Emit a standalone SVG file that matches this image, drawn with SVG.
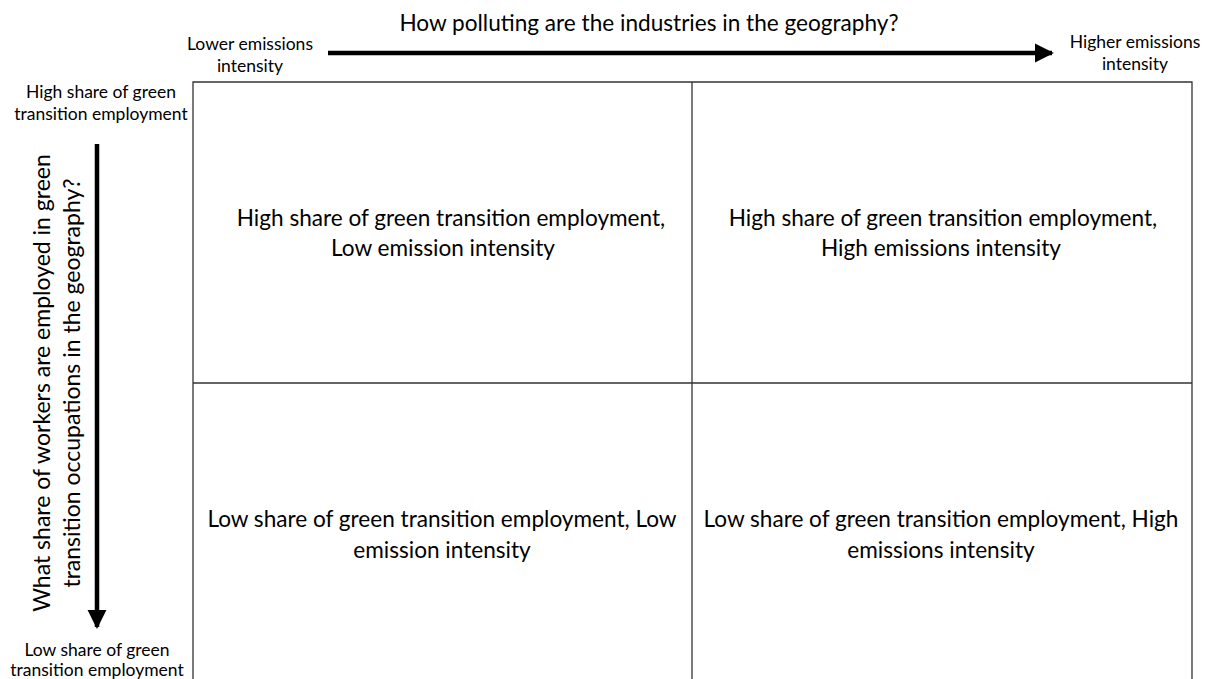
<svg xmlns="http://www.w3.org/2000/svg" width="1206" height="679" viewBox="0 0 1206 679">
<style>
text{font-family:Lato,"Open Sans","Liberation Sans",sans-serif;fill:#000;text-anchor:middle}
.s{font-size:17.5px}
.q{font-size:22.6px}
.t{font-size:22.6px}
.v{font-size:23px}
.grid{fill:none;stroke:#333;stroke-width:1.3}
.arr{stroke:#000;stroke-width:4.5;fill:none}
</style>
<defs>
<marker id="ah" viewBox="0 0 10 10" refX="9" refY="5" markerWidth="4.2" markerHeight="4.6" markerUnits="strokeWidth" orient="auto">
<path d="M0,0 L10,5 L0,10 Z" fill="#000"/>
</marker>
</defs>
<rect width="1206" height="679" fill="#fff"/>
<g id="grid">
<path class="grid" d="M193,700 V82 H1192 V700 M193,383 H1192 M692,82 V700"/>
</g>
<g id="connectors">
<line class="arr" x1="328" y1="53" x2="1052" y2="53" marker-end="url(#ah)"/>
<line class="arr" x1="97" y1="144" x2="97" y2="627" marker-end="url(#ah)"/>
</g>
<g id="title"><text class="t" x="649" y="31">How polluting are the industries in the geography?</text></g>
<g id="lower-label"><text class="s" x="250" y="50">Lower emissions</text><text class="s" x="250" y="72">intensity</text></g>
<g id="higher-label"><text class="s" x="1135" y="48">Higher emissions</text><text class="s" x="1135" y="70">intensity</text></g>
<g id="high-share-label"><text class="s" x="101" y="98">High share of green</text><text class="s" x="101" y="120">transition employment</text></g>
<g id="low-share-label"><text class="s" x="97" y="656">Low share of green</text><text class="s" x="97" y="676">transition employment</text></g>
<g id="y-axis-label" transform="translate(57,383) rotate(-90)">
<text class="v" x="0" y="-7">What share of workers are employed in green</text>
<text class="v" x="0" y="23">transition occupations in the geography?</text>
</g>
<g id="q-tl"><text class="q" x="451" y="226">High share of green transition employment,</text><text class="q" x="443" y="256">Low emission intensity</text></g>
<g id="q-tr"><text class="q" x="943" y="226">High share of green transition employment,</text><text class="q" x="941" y="256">High emissions intensity</text></g>
<g id="q-bl"><text class="q" x="442" y="527">Low share of green transition employment, Low</text><text class="q" x="442" y="558">emission intensity</text></g>
<g id="q-br"><text class="q" x="941" y="527">Low share of green transition employment, High</text><text class="q" x="941" y="558">emissions intensity</text></g>
</svg>
